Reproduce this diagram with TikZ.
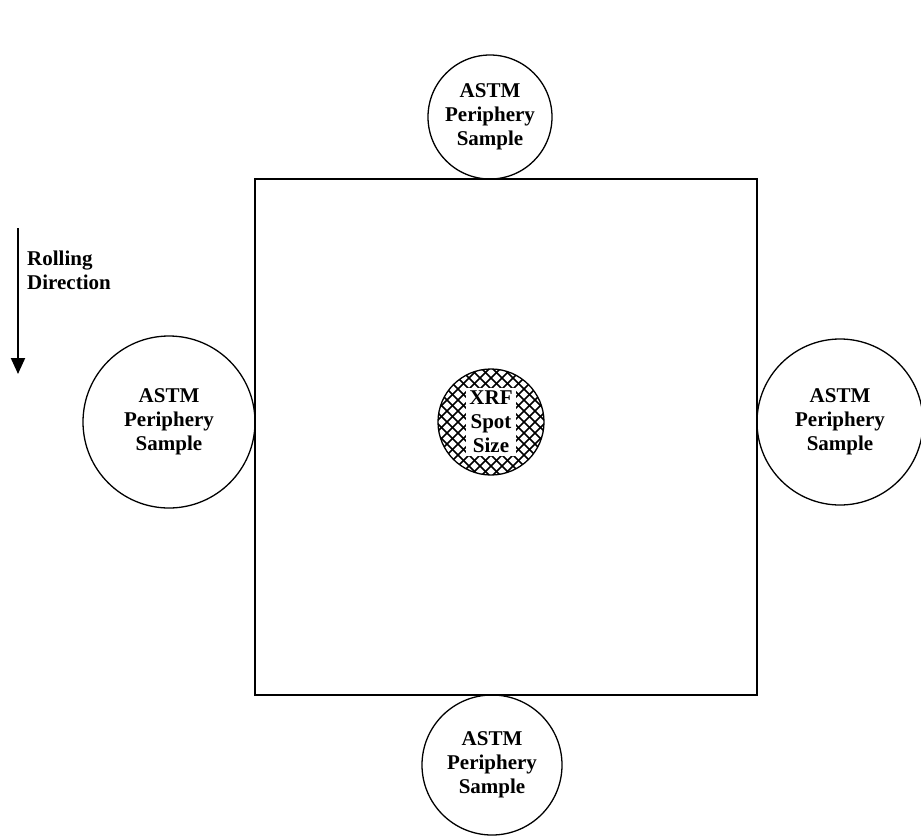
\documentclass[tikz,border=0pt]{standalone}
\usepackage{fontspec}
\setmainfont{Liberation Serif}
\usetikzlibrary{arrows.meta, positioning}

\begin{document}
\begin{tikzpicture}[
  x=1pt, y=-1pt,
  label/.style={font=\bfseries\fontsize{21}{24}\selectfont, align=center},
  plate/.style={rectangle, draw, line width=2.5pt, minimum width=502pt, minimum height=516pt, inner sep=0pt, outer sep=0pt},
  sample/.style={circle, draw, line width=1.3pt, inner sep=0pt, outer sep=0pt, label},
  arrow/.style={-{Triangle[width=14pt, length=16pt]}, line width=2pt}
]
\useasboundingbox (0,0) rectangle (921,838);

\node[plate] (plate) at (506,437) {};

\node[sample, minimum size=124pt, above=0pt of plate.north, xshift=-16pt] (top) {ASTM\\Periphery\\Sample};
\node[sample, minimum size=172pt, left=0pt of plate.west, yshift=15pt] (left) {ASTM\\Periphery\\Sample};
\node[sample, minimum size=166pt, right=0pt of plate.east, yshift=15pt] (right) {ASTM\\Periphery\\Sample};
\node[sample, minimum size=140pt, below=0pt of plate.south, xshift=-14pt] (bottom) {ASTM\\Periphery\\Sample};

% cross-hatched XRF spot
\coordinate[xshift=-15pt, yshift=15pt] (spotc) at (plate.center);
\begin{scope}
  \clip (spotc) circle (53pt);
  \foreach \d in {-132,-121,...,132} {
    \draw[line width=1.6pt] ([xshift=\d pt]spotc) ++(-66,-66) -- ++(132,132);
    \draw[line width=1.6pt] ([xshift=\d pt]spotc) ++(66,-66) -- ++(-132,132);
  }
\end{scope}
\draw[line width=1.3pt] (spotc) circle (53pt);
\node[label, fill=white, inner sep=3pt] (spot) at (spotc) {XRF\\Spot\\Size};

% rolling direction
\coordinate (rollA) at (18,228);
\coordinate (rollB) at (18,374);
\draw[arrow] (rollA) -- (rollB);
\node[label, align=left, anchor=west, inner sep=0pt] (roll) at (27,270) {Rolling\\Direction};

\end{tikzpicture}
\end{document}
